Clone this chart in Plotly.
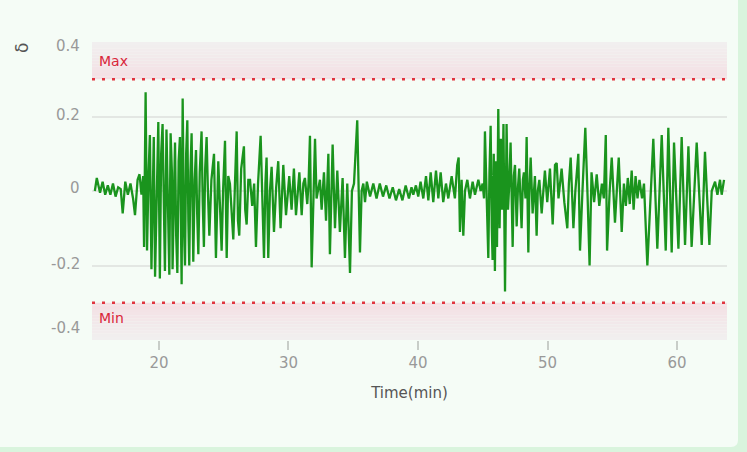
import plotly.graph_objects as go

# ---- data (time in minutes, delta values) ----
t_quiet_start = [15.05, 15.2, 15.45, 15.65, 15.85, 16.05, 16.25, 16.45, 16.65, 16.85,
                 17.05, 17.2, 17.4, 17.6, 17.8, 18.0, 18.15, 18.35, 18.5, 18.65]
v_quiet_start = [0.0, 0.035, -0.005, 0.025, -0.01, 0.015, -0.01, 0.02, -0.015, 0.01,
                 0.005, -0.06, 0.025, -0.01, 0.02, -0.02, -0.065, 0.03, 0.045, -0.01]

t_burst1 = [18.78, 18.85, 18.97, 19.08, 19.2, 19.3, 19.42, 19.52, 19.6, 19.7,
            19.85, 19.95, 20.07, 20.17, 20.28, 20.4, 20.46, 20.58, 20.7, 20.8,
            20.9, 21.0, 21.05, 21.15, 21.24, 21.33, 21.42, 21.52, 21.62, 21.75,
            21.83, 21.93, 22.01, 22.1, 22.19, 22.27, 22.34, 22.43, 22.52, 22.6,
            22.65, 22.76, 22.86, 22.95, 23.04, 23.15, 23.29, 23.38, 23.47, 23.57,
            23.68, 23.78, 23.89, 24.05, 24.25, 24.4, 24.5, 24.58, 24.7, 24.84,
            24.95, 25.1, 25.23, 25.35, 25.48, 25.6, 25.74, 25.87, 26.0, 26.1,
            26.2, 26.35, 26.56, 26.66, 26.77, 26.9]
v_burst1 = [0.04, -0.15, 0.265, -0.16, 0.05, 0.15, -0.21, 0.02, 0.145, -0.23,
            0.0, 0.185, -0.235, 0.1, 0.18, -0.1, -0.215, 0.165, -0.05, -0.225,
            0.155, 0.05, -0.21, 0.02, 0.13, -0.12, -0.22, 0.08, 0.145, -0.25,
            0.248, -0.1, -0.2, 0.1, 0.19, -0.08, -0.2, 0.05, 0.155, -0.05,
            -0.19, 0.03, 0.11, -0.06, -0.17, 0.05, 0.16, -0.03, -0.15, 0.06,
            0.145, 0.0, -0.12, 0.03, 0.1, -0.18, 0.02, 0.08, -0.03, -0.16,
            0.0, 0.135, -0.18, 0.04, 0.02, -0.05, -0.13, 0.02, 0.16, -0.08,
            -0.12, 0.06, 0.12, -0.05, -0.09, 0.03]

t_mid = [27.03, 27.2, 27.35, 27.49, 27.65, 27.85, 28.0, 28.11, 28.22, 28.31,
         28.44, 28.57, 28.7, 28.88, 29.05, 29.21, 29.39, 29.5, 29.6, 29.81,
         29.95, 30.06, 30.24, 30.42, 30.58, 30.72, 30.84, 31.02, 31.15, 31.27,
         31.45, 31.55, 31.66, 31.79, 31.92, 32.05, 32.17, 32.3, 32.43, 32.56,
         32.74, 32.9, 33.08, 33.2, 33.3, 33.41, 33.59, 33.77, 33.97, 34.18,
         34.36, 34.54, 34.75, 34.9, 35.06, 35.31, 35.52, 35.65, 35.78, 35.91]
v_mid = [0.03, -0.04, 0.02, -0.15, 0.02, 0.148, -0.03, -0.18, 0.02, 0.09,
         -0.18, 0.0, 0.065, -0.11, 0.01, 0.08, -0.1, 0.01, 0.07, -0.065,
         0.0, 0.04, -0.05, 0.06, -0.065, 0.0, 0.05, -0.065, 0.02, 0.035,
         -0.035, 0.02, 0.148, -0.205, 0.0, 0.14, -0.02, 0.01, 0.03, -0.05,
         0.05, -0.08, 0.1, -0.17, 0.0, 0.125, -0.1, 0.055, -0.11, 0.035,
         -0.18, 0.02, -0.22, 0.0, 0.02, 0.19, -0.165, 0.0, 0.02, -0.03]

t_quiet_mid = [36.05, 36.3, 36.55, 36.8, 37.05, 37.3, 37.55, 37.8, 38.05, 38.3,
               38.55, 38.8, 39.05, 39.3, 39.5, 39.64, 39.84, 40.02, 40.2, 40.41,
               40.62, 40.8, 40.98, 41.18, 41.39, 41.57, 41.75, 41.95, 42.16, 42.34,
               42.6, 42.85, 43.03, 43.14, 43.24, 43.37, 43.5, 43.63, 43.81, 44.01,
               44.22, 44.4, 44.66, 44.84, 44.99]
v_quiet_mid = [0.025, -0.015, 0.02, -0.02, 0.02, -0.015, 0.015, -0.02, 0.01, -0.025,
               0.005, -0.025, 0.015, -0.02, 0.01, -0.01, 0.015, -0.015, 0.025, -0.02,
               0.04, -0.025, 0.05, -0.03, 0.055, -0.02, 0.05, -0.03, 0.02, -0.02,
               0.04, -0.02, 0.07, 0.09, -0.11, 0.03, -0.12, 0.0, 0.03, -0.02,
               0.025, -0.01, 0.03, 0.0, 0.02]

t_burst2 = [45.1, 45.17, 45.3, 45.43, 45.52, 45.61, 45.7, 45.76, 45.85, 45.94,
            46.02, 46.1, 46.2, 46.3, 46.4, 46.5, 46.6, 46.72, 46.84, 46.95,
            47.05, 47.15, 47.31, 47.4, 47.49, 47.62, 47.72, 47.82, 48.0, 48.1,
            48.18, 48.3, 48.39, 48.52, 48.6, 48.7, 48.85, 48.95, 49.03, 49.16,
            49.25, 49.37, 49.55, 49.8, 49.98, 50.19, 50.4, 50.58, 50.71, 50.85,
            51.0, 51.09, 51.3, 51.53, 51.65, 51.79, 52.0, 52.15, 52.38, 52.51,
            52.7, 52.92, 53.1, 53.25, 53.4, 53.6, 53.8, 54.0, 54.2, 54.35,
            54.5, 54.6, 54.8, 54.96, 55.21, 55.35, 55.5, 55.73, 55.9, 56.05,
            56.2, 56.35, 56.5, 56.65, 56.8, 56.95, 57.1, 57.3, 57.45]
v_burst2 = [-0.02, 0.16, -0.05, -0.18, 0.05, 0.175, -0.1, -0.185, 0.1, -0.215,
            0.08, -0.15, 0.22, -0.1, 0.14, -0.05, 0.18, -0.27, 0.18, -0.05,
            0.02, 0.13, -0.15, 0.04, 0.07, -0.095, 0.01, 0.06, -0.1, 0.03,
            0.05, -0.02, 0.145, -0.165, 0.0, 0.09, -0.06, 0.02, 0.04, -0.12,
            0.0, 0.03, -0.06, 0.055, -0.03, 0.06, -0.09, 0.07, 0.075, -0.02,
            0.03, 0.06, -0.03, -0.1, 0.02, 0.09, -0.1, 0.0, 0.1, -0.16,
            0.0, 0.17, -0.02, -0.2, 0.05, -0.03, 0.045, -0.04, 0.02, -0.02,
            0.15, -0.16, 0.0, 0.09, -0.085, 0.0, 0.09, -0.11, 0.02, -0.04,
            0.035, -0.035, 0.055, -0.05, 0.04, -0.02, 0.03, -0.02, 0.02]

t_end = [57.71, 57.95, 58.17, 58.48, 58.82, 59.13, 59.33, 59.59, 59.77, 60.11,
         60.36, 60.62, 60.88, 61.13, 61.52, 61.91, 62.16, 62.5, 62.68, 62.94,
         63.12, 63.32, 63.45, 63.63]
v_end = [-0.2, 0.0, 0.14, -0.155, 0.15, -0.16, 0.17, -0.165, 0.13, -0.155,
         0.145, -0.145, 0.12, -0.15, 0.13, -0.145, 0.105, -0.145, 0.0, 0.025,
         -0.01, 0.03, -0.01, 0.03]

limit_max = 0.3
limit_min = -0.3
y_ticks = [-0.4, -0.2, 0, 0.2, 0.4]
y_tick_text = ["-0.4", "-0.2", "0", "0.2", "0.4"]
x_ticks = [20, 30, 40, 50, 60]

times = t_quiet_start + t_burst1 + t_mid + t_quiet_mid + t_burst2 + t_end
values = v_quiet_start + v_burst1 + v_mid + v_quiet_mid + v_burst2 + v_end

# ---- figure ----
W, H = 747, 452
L, R, T, B = 92, 20, 42, 112
pw, ph = W - L - R, H - T - B

def px_x(px):
    return (px - L) / pw

def px_y(py):
    return (H - B - py) / ph

CARD = "#f5fcf6"
OUTER = "#d9f4dd"
LABEL_FONT = dict(family="DejaVu Sans", size=15, color="#999999")

fig = go.Figure()
fig.add_trace(go.Scatter(x=times, y=values, mode="lines",
                         line=dict(color="#1a941d", width=2.3),
                         hoverinfo="skip", showlegend=False))

shapes = []
# card with rounded bottom-right corner
x0, x1 = px_x(-10), px_x(738)
y0, y1 = px_y(447), px_y(-10)
rx, ry = 7 / pw, 7 / ph
shapes.append(dict(type="path", xref="paper", yref="paper", layer="below",
                   path=f"M {x0},{y1} L {x1},{y1} L {x1},{y0 + ry} Q {x1},{y0} {x1 - rx},{y0} L {x0},{y0} Z",
                   fillcolor=CARD, line=dict(width=0)))

# gradient plot bands
n = 12
pink = (244, 224, 228)
grey = (241, 239, 239)
for i in range(n):
    f = i / (n - 1)
    c = tuple(round(pink[k] + (grey[k] - pink[k]) * f) for k in range(3))
    col = f"rgb{c}"
    a = limit_max + (0.4 - limit_max) * i / n
    b = limit_max + (0.4 - limit_max) * (i + 1) / n
    shapes.append(dict(type="rect", xref="paper", yref="y", x0=0, x1=1, y0=a, y1=b,
                       fillcolor=col, line=dict(width=0), layer="below"))
    a2 = limit_min - (limit_min + 0.4) * i / n
    b2 = limit_min - (limit_min + 0.4) * (i + 1) / n
    shapes.append(dict(type="rect", xref="paper", yref="y", x0=0, x1=1, y0=b2, y1=a2,
                       fillcolor=col, line=dict(width=0), layer="below"))

for lv in (limit_max, limit_min):
    shapes.append(dict(type="line", xref="paper", yref="y", x0=0, x1=1, y0=lv, y1=lv,
                       line=dict(color="#e0343f", width=2.5, dash="3px,7px"), layer="above"))

annotations = [
    dict(text="Max", xref="paper", yref="y", x=0, y=0.35, xanchor="left", yanchor="middle",
         xshift=5, showarrow=False, font=dict(family="DejaVu Sans", size=14, color="#d9263a")),
    dict(text="Min", xref="paper", yref="y", x=0, y=-0.34, xanchor="left", yanchor="middle",
         xshift=5, showarrow=False, font=dict(family="DejaVu Sans", size=14, color="#d9263a")),
    dict(text="δ", xref="paper", yref="paper", x=px_x(22), y=px_y(48), textangle=-90,
         xanchor="center", yanchor="middle", showarrow=False,
         font=dict(family="DejaVu Sans", size=17, color="#555555")),
]
# y tick labels (offsets as in the reference rendering)
label_shift = {0.4: -4, 0.2: 2, 0: 3, -0.2: 2, -0.4: 12}
for val, txt in zip(y_ticks, y_tick_text):
    annotations.append(dict(text=txt, xref="paper", yref="y", x=0, y=val,
                            xanchor="right", yanchor="middle", xshift=-10,
                            yshift=label_shift[val], showarrow=False, font=LABEL_FONT))

fig.update_layout(
    width=W, height=H,
    margin=dict(l=L, r=R, t=T, b=B, pad=0),
    paper_bgcolor=OUTER, plot_bgcolor=CARD,
    shapes=shapes, annotations=annotations,
    font=dict(family="DejaVu Sans", color="#999999", size=15),
    xaxis=dict(range=[14.83, 63.86], tickvals=x_ticks, ticks="outside", ticklen=9,
               tickcolor="#c8cdc8", tickwidth=1.5, showgrid=False, zeroline=False,
               showline=False, tickfont=LABEL_FONT,
               title=dict(text="Time(min)", font=dict(size=15, color="#555555"), standoff=16)),
    yaxis=dict(range=[-0.4, 0.4], tickvals=y_ticks, showticklabels=False,
               showgrid=True, gridcolor="#e3e7e3", gridwidth=2, zeroline=False,
               showline=False, ticks=""),
)

fig.write_html("out.html", config={"displayModeBar": False},
               post_script="document.body.style.margin='0';document.body.style.overflow='hidden';")
